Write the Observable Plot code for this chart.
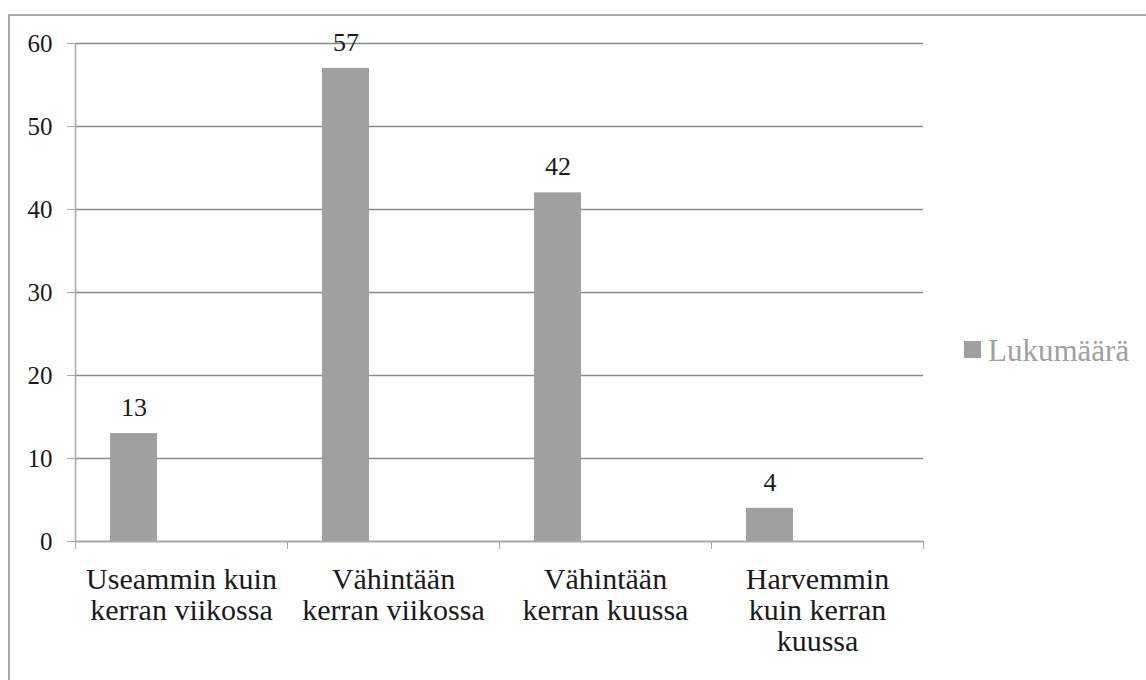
<!DOCTYPE html>
<html>
<head>
<meta charset="utf-8">
<script src="https://cdn.jsdelivr.net/npm/d3@7"></script>
<script src="https://cdn.jsdelivr.net/npm/@observablehq/plot@0.6"></script>
<style>
  html, body { margin: 0; padding: 0; background: #fff; overflow: hidden; }
  #wrap { position: relative; width: 1146px; height: 680px; overflow: hidden; }
  #chart { position: absolute; left: 0; top: 0; }
  #border { position: absolute; left: 8px; top: 14px; right: -20px; bottom: -20px;
            border-top: 2px solid #a9a9a9; border-left: 2px solid #a9a9a9; pointer-events: none; }
  #legend-swatch { position: absolute; left: 964px; top: 341px; width: 17px; height: 17px; background: #a0a0a0; }
  #legend-text { position: absolute; left: 988px; top: 335px; font-size: 31px; line-height: 31px;
                 font-family: "Liberation Serif", "Times New Roman", serif; color: #a0a0a0; white-space: nowrap; }
</style>
</head>
<body>
<div id="wrap">
  <div id="chart"></div>
  <div id="border"></div>
  <div id="legend-swatch"></div>
  <div id="legend-text"></div>
</div>
<script>
const categories = [
  "Useammin kuin kerran viikossa",
  "Vähintään kerran viikossa",
  "Vähintään kerran kuussa",
  "Harvemmin kuin kerran kuussa"
];
const tickLabels = [
  "Useammin kuin\nkerran viikossa",
  "Vähintään\nkerran viikossa",
  "Vähintään\nkerran kuussa",
  "Harvemmin\nkuin kerran\nkuussa"
];
const values = [13, 57, 42, 4];
const yTicks = [0, 10, 20, 30, 40, 50, 60];
const seriesName = "Lukumäärä";

const data = categories.map((c, i) => ({category: c, value: values[i]}));
const labelOf = new Map(categories.map((c, i) => [c, tickLabels[i]]));

const W = 1146, H = 680;
const mLeft = 75, mRight = 223, mTop = 43, mBottom = 139;
const band = (W - mLeft - mRight) / categories.length;   // 212
const insetL = 35, insetR = 130;
const barCenterOffset = insetL + (band - insetL - insetR) / 2 - band / 2;
const serif = "'Liberation Serif', 'Times New Roman', serif";

const chart = Plot.plot({
  width: W,
  height: H,
  marginLeft: mLeft,
  marginRight: mRight,
  marginTop: mTop,
  marginBottom: mBottom,
  style: {background: "transparent", fontFamily: serif, color: "#1a1a1a"},
  x: {type: "band", domain: categories, padding: 0, axis: null},
  y: {domain: [0, 60], axis: null},
  marks: [
    Plot.gridY(yTicks, {stroke: "#8a8a8a", strokeOpacity: 1, strokeWidth: 1.5}),
    Plot.barY(data, {
      x: "category", y: "value", fill: "#a0a0a0",
      insetLeft: insetL, insetRight: insetR,
      style: {filter: "drop-shadow(1px 1px 1px rgba(0,0,0,0.25))"}
    }),
    Plot.text(data, {
      x: "category", y: "value", text: d => String(d.value),
      dx: barCenterOffset, dy: -26,
      fontSize: 26, fontFamily: serif, fill: "#1a1a1a"
    }),
    Plot.ruleY([0], {stroke: "#a9a9a9", strokeWidth: 1.5}),
    Plot.ruleX([categories[0]], {dx: -band / 2, stroke: "#a9a9a9", strokeWidth: 1.5}),
    Plot.axisY(yTicks, {
      anchor: "left", tickSize: 8, tickPadding: 15, fontSize: 25, fontFamily: serif,
      stroke: "#a9a9a9", fill: "#1a1a1a", label: null
    }),
    Plot.axisX(categories, {
      anchor: "bottom", tickSize: 8, text: null, dx: band / 2,
      stroke: "#a9a9a9", label: null
    }),
    Plot.axisX([categories[0]], {
      anchor: "bottom", tickSize: 8, text: null, dx: -band / 2,
      stroke: "#a9a9a9", label: null
    }),
    Plot.axisX(categories, {
      anchor: "bottom", tickSize: 0, tickPadding: 25, fontSize: 30, lineHeight: 31 / 30,
      fontFamily: serif, tickFormat: c => labelOf.get(c), fill: "#1a1a1a", label: null
    })
  ]
});
document.getElementById("chart").appendChild(chart);
document.getElementById("legend-text").textContent = seriesName;
</script>
</body>
</html>
